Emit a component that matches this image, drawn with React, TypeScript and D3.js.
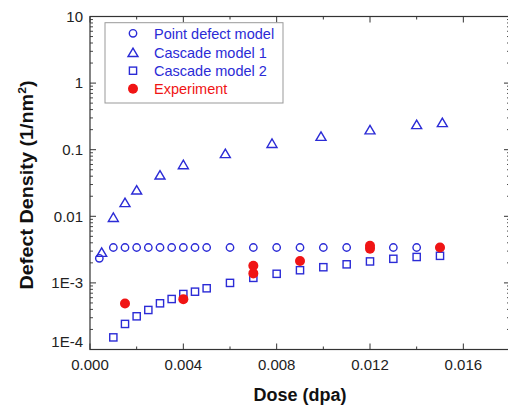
import React from "react";
import * as d3 from "d3";

const circleDose = [0.0004, 0.001, 0.0015, 0.002, 0.0025, 0.003, 0.0035, 0.004, 0.0045, 0.005, 0.006, 0.007, 0.008, 0.009, 0.010, 0.011, 0.012, 0.013, 0.014, 0.015];
const circleVal = [0.00234, 0.0034, 0.0034, 0.0034, 0.0034, 0.0034, 0.0034, 0.0034, 0.0034, 0.0034, 0.0034, 0.0034, 0.0034, 0.0034, 0.0034, 0.0034, 0.0034, 0.0034, 0.0034, 0.0034];

const triDose = [0.0005, 0.001, 0.0015, 0.002, 0.003, 0.004, 0.0058, 0.0078, 0.0099, 0.012, 0.014, 0.0151];
const triVal = [0.0029, 0.0097, 0.0162, 0.025, 0.042, 0.06, 0.088, 0.125, 0.16, 0.2, 0.24, 0.257];

const sqDose = [0.001, 0.0015, 0.002, 0.0025, 0.003, 0.0035, 0.004, 0.0045, 0.005, 0.006, 0.007, 0.008, 0.009, 0.010, 0.011, 0.012, 0.013, 0.014, 0.015];
const sqVal = [1.52e-4, 2.42e-4, 3.15e-4, 3.92e-4, 4.94e-4, 5.73e-4, 6.81e-4, 7.38e-4, 8.3e-4, 1.0e-3, 1.19e-3, 1.37e-3, 1.55e-3, 1.72e-3, 1.9e-3, 2.1e-3, 2.3e-3, 2.45e-3, 2.55e-3];

const expDose = [0.0015, 0.004, 0.007, 0.007, 0.009, 0.012, 0.012, 0.015];
const expVal = [4.9e-4, 5.7e-4, 1.39e-3, 1.81e-3, 2.13e-3, 3.25e-3, 3.6e-3, 3.4e-3];

const xMajorTicks = [0, 0.004, 0.008, 0.012, 0.016];
const xTickLabels = ["0.000", "0.004", "0.008", "0.012", "0.016"];
const xMinorTicks = [0.002, 0.006, 0.01, 0.014, 0.018];
const yMajorTicks = [1e-4, 1e-3, 0.01, 0.1, 1, 10];
const yTickLabels = ["1E-4", "1E-3", "0.01", "0.1", "1", "10"];

const legendLabels = ["Point defect model", "Cascade model 1", "Cascade model 2", "Experiment"];

const BLUE = "#2b2bd6";
const RED = "#f01414";
const FONT = "Arial, 'Liberation Sans', sans-serif";

export default function App() {
  const W = 508, H = 406;
  const left = 90, right = 510, top = 16.5, bottom = 349.5;
  const x = d3.scaleLinear().domain([0, 0.018]).range([left, right]);
  const y = d3.scaleLog().domain([1e-4, 10]).range([bottom, top]);

  const yMinor: number[] = [];
  for (let e = -4; e < 1; e++) {
    for (let m = 2; m <= 9; m++) yMinor.push(m * Math.pow(10, e));
  }

  const axisColor = "#333";
  const maj = 6, mnr = 3;

  const circle = (cx: number, cy: number, k: string) => (
    <circle key={k} cx={cx} cy={cy} r={3.7} fill="none" stroke={BLUE} strokeWidth={1.4} />
  );
  const tri = (cx: number, cy: number, k: string) => {
    const s = 10, h = 8.5;
    const p = `M${cx - s / 2},${cy + h / 2}L${cx + s / 2},${cy + h / 2}L${cx},${cy - h / 2}Z`;
    return <path key={k} d={p} fill="none" stroke={BLUE} strokeWidth={1.4} strokeLinejoin="miter" />;
  };
  const sq = (cx: number, cy: number, k: string) => (
    <rect key={k} x={cx - 3.6} y={cy - 3.6} width={7.2} height={7.2} fill="none" stroke={BLUE} strokeWidth={1.4} />
  );
  const dot = (cx: number, cy: number, k: string) => (
    <circle key={k} cx={cx} cy={cy} r={5} fill={RED} />
  );

  const legendX = 133, legendTextX = 154;
  const legendY = [33.3, 52.3, 70.7, 88.7];

  return (
    <svg width={W} height={H} style={{ position: "absolute", left: 0, top: 0, background: "#fff" }} fontFamily={FONT}>
      <rect x={0} y={0} width={W} height={H} fill="#fff" />
      {/* frame */}
      <rect x={left} y={top} width={right - left} height={bottom - top} fill="none" stroke={axisColor} strokeWidth={1.2} />
      {/* x ticks */}
      {xMajorTicks.map((t, i) => (
        <g key={"xm" + i}>
          <line x1={x(t)} x2={x(t)} y1={bottom} y2={bottom - maj} stroke={axisColor} strokeWidth={1} />
          <line x1={x(t)} x2={x(t)} y1={top} y2={top + maj} stroke={axisColor} strokeWidth={1} />
          <text x={x(t)} y={370} textAnchor="middle" fontSize={15} fill="#222">{xTickLabels[i]}</text>
        </g>
      ))}
      {xMinorTicks.map((t, i) => (
        <g key={"xn" + i}>
          <line x1={x(t)} x2={x(t)} y1={bottom} y2={bottom - mnr} stroke={axisColor} strokeWidth={1} />
          <line x1={x(t)} x2={x(t)} y1={top} y2={top + mnr} stroke={axisColor} strokeWidth={1} />
        </g>
      ))}
      {/* y ticks */}
      {yMajorTicks.map((t, i) => (
        <g key={"ym" + i}>
          <line x1={left} x2={left + maj} y1={y(t)} y2={y(t)} stroke={axisColor} strokeWidth={1} />
          <line x1={right} x2={right - maj} y1={y(t)} y2={y(t)} stroke={axisColor} strokeWidth={1} />
          <text x={83} y={y(t) + (i === 0 ? -8 : 0)} dy="0.35em" textAnchor="end" fontSize={15} fill="#222">{yTickLabels[i]}</text>
        </g>
      ))}
      {yMinor.map((t, i) => (
        <g key={"yn" + i}>
          <line x1={left} x2={left + mnr} y1={y(t)} y2={y(t)} stroke={axisColor} strokeWidth={0.9} />
          <line x1={right} x2={right - mnr} y1={y(t)} y2={y(t)} stroke={axisColor} strokeWidth={0.9} />
        </g>
      ))}
      {/* axis titles */}
      <text x={300} y={401} textAnchor="middle" fontSize={18} fontWeight="bold" fill="#111">Dose (dpa)</text>
      <text transform="translate(33,185) rotate(-90) scale(1.1,1)" textAnchor="middle" fontSize={18} fontWeight="bold" fill="#111">
        Defect Density (1/nm<tspan fontSize={11} dy={-7}>2</tspan><tspan dy={7}>)</tspan>
      </text>
      {/* legend */}
      <rect x={105} y={22.7} width={178} height={80.3} fill="#fff" stroke="#999" strokeWidth={1} />
      {circle(legendX, legendY[0], "lc")}
      {tri(legendX, legendY[1], "lt")}
      {sq(legendX, legendY[2], "ls")}
      {dot(legendX, legendY[3], "ld")}
      {legendLabels.map((l, i) => (
        <text key={"lg" + i} x={legendTextX} y={legendY[i]} dy="0.36em" fontSize={14.5} fill={i === 3 ? RED : BLUE}>{l}</text>
      ))}
      {/* data */}
      {circleDose.map((d, i) => circle(x(d), y(circleVal[i]), "c" + i))}
      {triDose.map((d, i) => tri(x(d), y(triVal[i]), "t" + i))}
      {sqDose.map((d, i) => sq(x(d), y(sqVal[i]), "s" + i))}
      {expDose.map((d, i) => dot(x(d), y(expVal[i]), "e" + i))}
    </svg>
  );
}
